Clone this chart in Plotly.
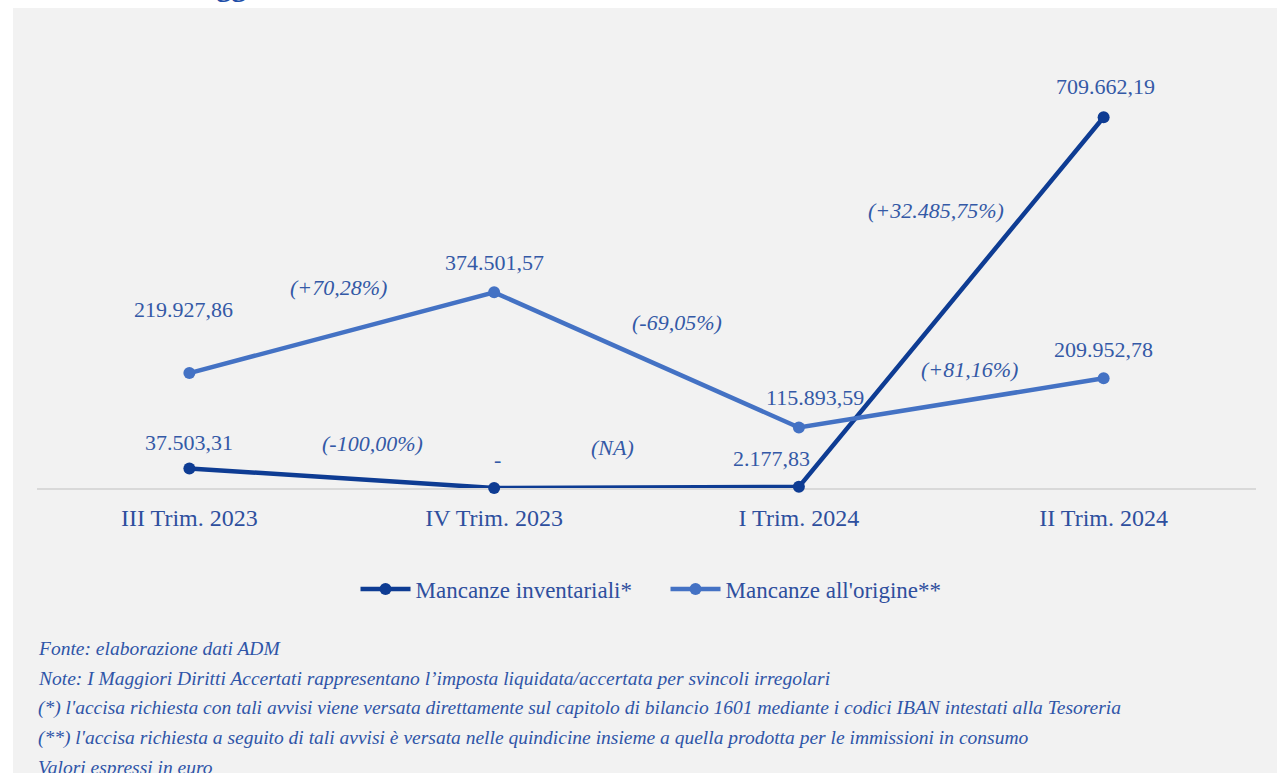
import plotly.graph_objects as go

# Quarterly data (euro)
quarters = ["III Trim. 2023", "IV Trim. 2023", "I Trim. 2024", "II Trim. 2024"]
inventariali = [37503.31, 0.0, 2177.83, 709662.19]
origine = [219927.86, 374501.57, 115893.59, 209952.78]

series_names = ["Mancanze inventariali*", "Mancanze all'origine**"]
series_colors = ["#0E3C93", "#4472C4"]

# Manual offsets (px) of the value labels relative to each point
inv_label_shift = [(0, 26), (3, 29), (-27, 28), (2, 31)]
ori_label_shift = [(-6, 64), (0, 30), (16, 30), (0, 29)]

# Position of the variation labels: (category index, y value)
inv_var_pos = [(0.60, 86000), (1.39, 78400), (2.45, 531700)]
ori_var_pos = [(0.49, 384500), (1.60, 317500), (2.56, 227600)]

footnotes = [
    "Fonte: elaborazione dati ADM",
    "Note: I Maggiori Diritti Accertati rappresentano l\u2019imposta liquidata/accertata per svincoli irregolari",
    "(*) l'accisa richiesta con tali avvisi viene versata direttamente sul capitolo di bilancio 1601 mediante i codici IBAN intestati alla Tesoreria",
    "(**) l'accisa richiesta a seguito di tali avvisi \u00e8 versata nelle quindicine insieme a quella prodotta per le immissioni in consumo",
    "Valori espressi in euro",
]

FONT = "Liberation Serif, Times New Roman, serif"
LABEL_COLOR = "#3459A6"
TICK_COLOR = "#2E4F9E"
NOTE_COLOR = "#2F55A8"

W, H = 1279, 773
ML, MR, MT, MB = 37, 23, 70, 285
PW, PH = W - ML - MR, H - MT - MB


def px_x(x):
    return (x - ML) / PW


def px_y(y):
    return (H - MB - y) / PH


def fmt_it(v):
    if v == 0:
        return "-"
    s = f"{v:,.2f}"
    return s.replace(",", "X").replace(".", ",").replace("X", ".")


def fmt_var(prev, cur):
    if prev == 0:
        return "(NA)"
    pct = (cur / prev - 1) * 100
    s = fmt_it(abs(pct))
    sign = "+" if pct >= 0 else "-"
    return f"({sign}{s}%)"


fig = go.Figure()
for name, vals, col in zip(series_names, [inventariali, origine], series_colors):
    fig.add_trace(go.Scatter(
        x=quarters, y=vals, name=name, mode="lines+markers",
        line=dict(color=col, width=4.5),
        marker=dict(color=col, size=12),
        cliponaxis=False,
    ))

annotations = []
# value labels
for vals, shifts in [(inventariali, inv_label_shift), (origine, ori_label_shift)]:
    for q, v, (dx, dy) in zip(quarters, vals, shifts):
        annotations.append(dict(
            x=q, y=v, xref="x", yref="y", text=fmt_it(v), showarrow=False,
            xshift=dx, yshift=dy, xanchor="center", yanchor="middle",
            font=dict(family=FONT, size=22, color=LABEL_COLOR),
        ))

# variation labels between consecutive quarters
for vals, pos in [(inventariali, inv_var_pos), (origine, ori_var_pos)]:
    for i, (xi, yv) in enumerate(pos):
        annotations.append(dict(
            x=xi, y=yv, xref="x", yref="y", text=f"<i>{fmt_var(vals[i], vals[i + 1])}</i>",
            showarrow=False, xanchor="center", yanchor="middle",
            font=dict(family=FONT, size=22, color=LABEL_COLOR),
        ))

# notes under the chart
note_y = [648, 678, 708, 738, 767]
for txt, yy in zip(footnotes, note_y):
    annotations.append(dict(
        x=px_x(36), y=px_y(yy), xref="paper", yref="paper", text=f"<i>{txt}</i>",
        showarrow=False, xanchor="left", yanchor="middle",
        font=dict(family=FONT, size=19.5, color=NOTE_COLOR),
    ))

# heading sitting above the visible page area
annotations.append(dict(
    x=px_x(172), y=px_y(3.5), xref="paper", yref="paper",
    text="<b>Maggiori Diritti Accertati</b>", showarrow=False,
    xanchor="left", yanchor="bottom", borderpad=0,
    font=dict(family=FONT, size=30, color="#1F4FA8"),
))

fig.update_layout(
    width=W, height=H,
    margin=dict(l=ML, r=MR, t=MT, b=MB, pad=0),
    paper_bgcolor="#ffffff",
    plot_bgcolor="rgba(0,0,0,0)",
    font=dict(family=FONT, color=TICK_COLOR),
    showlegend=True,
    legend=dict(
        orientation="h", x=0.5156, xanchor="center", y=px_y(589), yanchor="middle",
        font=dict(family=FONT, size=23, color=TICK_COLOR),
        bgcolor="rgba(0,0,0,0)", itemwidth=50, entrywidth=245, entrywidthmode="pixels",
    ),
    xaxis=dict(
        type="category", range=[-0.5, 3.5], showgrid=False, zeroline=False,
        showline=True, linecolor="#d9d9d9", linewidth=1.5, layer="below traces",
        ticks="", tickfont=dict(family=FONT, size=24, color=TICK_COLOR),
        ticklabelstandoff=7, fixedrange=True,
    ),
    yaxis=dict(
        range=[0, 800000], visible=False, showgrid=False, zeroline=False, fixedrange=True,
    ),
    shapes=[dict(
        type="rect", xref="paper", yref="paper", layer="below",
        x0=px_x(13), x1=px_x(1277), y0=px_y(8), y1=px_y(H + 5),
        fillcolor="#f2f2f2", line=dict(width=0),
    )],
    annotations=annotations,
)

fig.write_html("out.html")
